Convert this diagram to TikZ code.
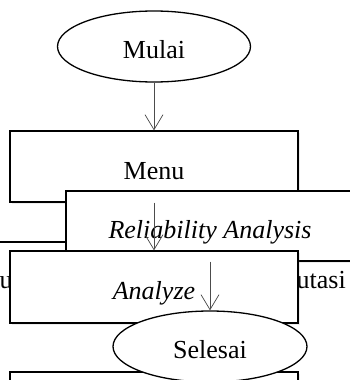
\documentclass[tikz,border=0pt]{standalone}
\usepackage{fontspec}
\setmainfont{Liberation Serif}
\usetikzlibrary{arrows.meta, positioning, shapes.geometric, shadows}

\begin{document}
\begin{tikzpicture}[x=1pt,y=-1pt,
    font=\fontsize{26}{30}\selectfont,
    terminal/.style={draw, ellipse, line width=1.3pt, fill=white,
        minimum width=193pt, minimum height=71pt, inner sep=0pt,
        text height=24pt, text depth=0pt},
    proses/.style={draw, rectangle, line width=1.3pt, fill=white,
        minimum width=288pt, minimum height=71pt, inner sep=0pt,
        text height=25pt, text depth=0pt,
        drop shadow={shadow xshift=2pt, shadow yshift=-2pt, opacity=0.15}},
    alur/.style={draw=black!70, line width=0.7pt,
        -{Straight Barb[length=15pt, width=18pt, line width=0.7pt]}}]
    \useasboundingbox (0,0) rectangle (350,380);
    \clip (0,0) rectangle (350,380);

    \node[terminal] (mulai) at (154,46.5) {Mulai};
    \node[proses] (menu) at (154,166.5) {Menu};

    % baris di belakang kotak-kotak
    \coordinate (garisL) at (0,242);
    \coordinate (garisR) at (350,242);
    \draw[line width=1.3pt] (garisL) -- (garisR);
    \node[anchor=base east, inner sep=0pt] (input) at (20,288) {Input};
    \node[anchor=base east, inner sep=0pt] (komputasi) at (346,288) {Komputasi};

    \node[proses, minimum height=70pt] (reliability) at (210,226) {\textit{Reliability Analysis}};
    \node[proses, minimum height=72pt] (analyze) at (154,287) {\textit{Analyze}};
    \node[proses] (akhir) at (154,407.5) {};
    \node[terminal, minimum width=194pt] (selesai) at (210,346.5) {Selesai};

    \draw[alur] (mulai) -- (menu);
    \draw[alur] (menu.south) -- (analyze.north);
    \draw[alur] (reliability.south) -- (selesai.north);
\end{tikzpicture}
\end{document}
